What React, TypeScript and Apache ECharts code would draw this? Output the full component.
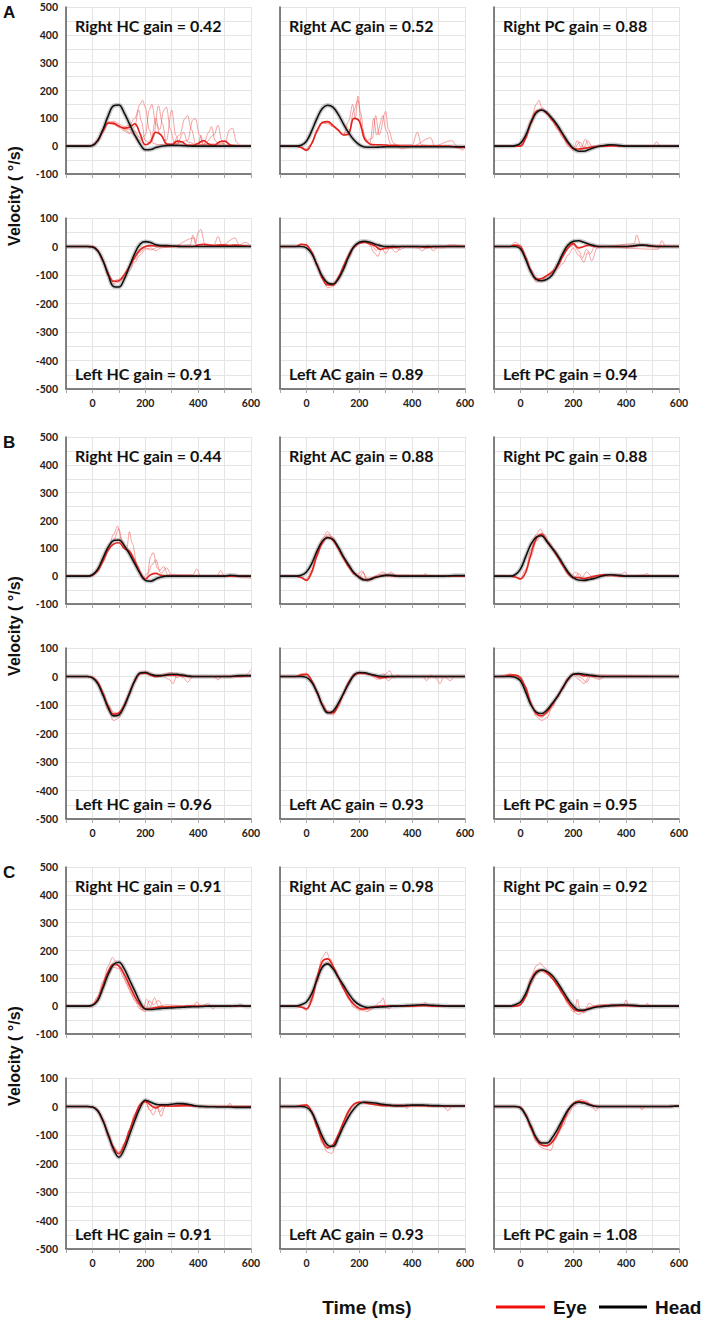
import React, { useEffect, useRef } from "react";
import * as echarts from "echarts";

// ---------- time base (ms) ----------
const T20 = [-100,-80,-60,-40,-20,0,20,40,60,80,100,120,140,160,180,200,220,240,260,280,300,320,340,360,380,400,420,440,460,480,500,520,540,560,580,600];

// ---------- group A ----------
const A_RHC_head = [0,0,0,0,0, 2,20,60,110,145,148,120,80,40,8,-13,-12,-5,0,2,3, 3,2,1,0,0,0,0,0,0,0,0,0,0,0,0];
const A_RHC_eye  = [0,0,0,0,0, 3,20,55,83,82,72,65,68,80,45,5,15,50,40,8,5, 18,15,3,3,10,20,8,3,15,18,5,2,0,0,0];
const A_RHC_trials = [
  [[-100,0],[-20,0],[0,2],[20,18],[40,55],[60,85],[80,90],[100,80],[120,70],[140,75],[160,100],[180,150],[190,165],[200,140],[215,60],[230,10],[250,5],[300,8],[330,40],[350,100],[360,110],[375,60],[390,10],[420,5],[440,50],[450,70],[465,20],[480,3],[600,0]],
  [[-100,0],[-20,0],[0,2],[20,15],[40,50],[60,80],[80,85],[100,75],[120,60],[140,50],[160,40],[180,20],[200,40],[215,130],[225,150],[240,80],[255,60],[270,130],[280,140],[295,60],[310,10],[360,20],[380,95],[390,100],[405,40],[420,5],[460,40],[475,75],[490,20],[500,2],[600,0]],
  [[-100,0],[-20,0],[0,3],[20,22],[40,60],[60,88],[80,80],[100,70],[120,62],[140,60],[160,55],[180,30],[200,5],[230,30],[250,145],[265,80],[280,10],[320,8],[345,50],[360,15],[400,5],[500,10],[520,60],[530,65],[545,15],[560,0],[600,0]],
  [[-100,0],[-20,0],[0,2],[20,20],[40,58],[60,82],[80,78],[100,68],[120,55],[140,45],[160,70],[175,130],[185,90],[200,20],[220,10],[240,100],[255,40],[280,20],[300,130],[315,40],[330,5],[400,0],[410,40],[420,5],[600,0]],
];
const A_LHC_head = [0,0,0,0,0, -2,-15,-50,-100,-140,-142,-115,-70,-25,8,17,14,6,3,3,2, 1,0,0,0,0,0,0,0,0,0,0,0,0,0,0];
const A_LHC_eye  = [0,0,0,0,0, 0,-15,-50,-95,-122,-120,-100,-70,-38,-12,0,3,2,2,0,0, 0,0,0,0,5,8,5,3,5,5,3,5,3,2,0];
const A_LHC_trials = [
  [[-100,0],[-20,0],[0,-2],[20,-18],[40,-55],[60,-105],[80,-130],[100,-125],[120,-110],[140,-85],[160,-55],[180,-30],[200,-10],[220,-5],[240,-15],[260,-5],[300,0],[370,5],[380,40],[390,10],[400,50],[410,60],[425,10],[460,5],[475,35],[490,5],[540,30],[555,5],[580,15],[600,0]],
  [[-100,0],[-20,0],[0,-2],[20,-16],[40,-50],[60,-100],[80,-120],[100,-115],[120,-100],[140,-75],[160,-45],[180,-20],[200,-5],[220,-12],[250,-2],[300,0],[385,30],[395,5],[600,0]],
];
const A_RAC_head = [0,0,0,0,3, 18,55,100,135,147,140,115,80,48,22,5,-3,-4,-4,-3,-2, -2,-2,-2,-2,-2,-2,-2,-2,-2,-2,-2,-2,-2,-2,-2];
const A_RAC_eye  = [0,0,0,0,-5, -15,10,55,85,88,75,58,40,45,100,90,25,8,5,5,4, 2,2,0,0,0,0,0,0,0,0,0,0,-3,-5,-3];
const A_RAC_trials = [
  [[-100,0],[-40,0],[-20,-5],[0,-10],[20,10],[40,60],[60,85],[80,80],[100,70],[120,55],[140,40],[160,90],[175,150],[185,100],[195,180],[205,120],[220,30],[240,10],[255,100],[265,40],[290,110],[300,60],[320,5],[400,5],[420,50],[435,5],[480,0],[550,20],[570,0],[590,-15],[600,-5]],
  [[-100,0],[-40,0],[-20,-5],[0,-12],[20,8],[40,50],[60,82],[80,85],[100,72],[120,60],[140,45],[160,50],[180,130],[195,165],[210,60],[230,20],[250,30],[262,110],[275,40],[300,125],[310,60],[330,10],[360,-10],[400,0],[470,30],[485,0],[600,0]],
];
const A_LAC_head = [0,0,0,0,0, -5,-25,-65,-105,-128,-132,-115,-80,-35,0,15,18,15,8,3,0, 0,0,0,0,0,0,0,0,0,0,0,0,0,0,0];
const A_LAC_eye  = [0,0,0,0,8, 5,-20,-65,-110,-135,-135,-110,-70,-30,0,12,15,10,2,-10,-5, -3,-3,0,0,0,0,-2,-3,0,0,0,0,0,0,0];
const A_LAC_trials = [
  [[-100,0],[-40,0],[-20,8],[0,5],[20,-20],[40,-70],[60,-115],[80,-145],[100,-140],[120,-115],[140,-80],[160,-40],[180,-5],[200,10],[220,15],[240,5],[255,-20],[270,-35],[285,-5],[300,-25],[315,-5],[340,-20],[360,0],[420,-5],[440,-15],[460,5],[480,-15],[500,0],[560,5],[600,0]],
  [[-100,0],[-40,0],[-20,6],[0,5],[20,-18],[40,-60],[60,-100],[80,-125],[100,-130],[120,-110],[140,-75],[160,-35],[180,-5],[200,10],[230,15],[250,0],[265,-15],[280,5],[300,-10],[330,5],[350,-12],[380,0],[520,-5],[540,5],[600,0]],
];
const A_RPC_head = [0,0,0,0,2, 10,40,85,120,130,120,100,75,45,15,-8,-18,-18,-12,-5,0, 3,5,4,2,0,0,0,0,0,0,0,0,0,0,0];
const A_RPC_eye  = [0,0,0,0,0, 0,30,85,125,130,118,95,70,40,10,-8,-10,-8,-5,-2,0, 0,2,2,0,0,0,0,0,0,0,0,0,0,0,0];
const A_RPC_trials = [
  [[-100,0],[0,0],[20,35],[40,95],[60,150],[70,165],[80,140],[100,125],[120,100],[140,70],[160,40],[180,10],[200,-10],[215,20],[230,-5],[245,25],[260,0],[300,0],[600,0]],
  [[-100,0],[0,0],[20,25],[40,80],[60,120],[80,135],[100,115],[120,90],[140,60],[160,30],[180,0],[200,-15],[225,15],[240,-5],[255,20],[270,0],[500,0],[515,15],[530,0],[600,0]],
];
const A_LPC_head = [0,0,0,0,0, -8,-45,-90,-115,-120,-115,-100,-65,-25,5,18,20,15,8,3,0, 0,0,0,0,0,2,4,5,4,2,0,0,0,0,0];
const A_LPC_eye  = [0,0,0,0,5, 0,-40,-85,-115,-112,-102,-90,-70,-35,-5,10,-5,0,5,0,0, 0,0,0,0,0,0,3,5,3,0,0,0,0,0,0];
const A_LPC_trials = [
  [[-100,0],[-40,0],[-20,15],[0,5],[20,-40],[40,-90],[60,-125],[80,-120],[100,-105],[120,-95],[140,-80],[160,-60],[180,-30],[200,-5],[220,-30],[240,-55],[255,-20],[270,-50],[290,-5],[320,0],[430,10],[440,40],[455,5],[600,0]],
  [[-100,0],[-20,0],[0,0],[20,-35],[40,-80],[60,-110],[80,-115],[100,-100],[120,-85],[140,-60],[160,-30],[180,-5],[200,5],[220,-15],[235,-40],[250,-10],[265,-25],[280,0],[520,-10],[535,20],[550,0],[600,0]],
];

// ---------- group B ----------
const B_RHC_head = [0,0,0,0,0, 5,25,65,105,128,130,110,80,45,10,-15,-18,-10,-3,0,0, 0,0,0,0,0,0,0,0,0,0,3,2,0,0,0];
const B_RHC_eye  = [0,0,0,0,0, 3,20,55,95,115,120,100,90,55,15,-10,5,10,3,0,0, 0,0,0,0,0,0,0,0,0,0,0,0,0,0,0];
const B_RHC_trials = [
  [[-100,0],[-20,0],[0,3],[20,20],[40,60],[60,100],[80,150],[95,180],[110,130],[130,100],[140,160],[150,120],[170,40],[190,-10],[205,-15],[220,70],[230,85],[245,30],[260,10],[280,30],[300,5],[400,0],[600,0]],
  [[-100,0],[-20,0],[0,2],[20,15],[40,50],[60,90],[80,130],[100,170],[115,120],[130,90],[150,70],[170,30],[190,-5],[210,10],[225,40],[240,60],[255,20],[270,35],[285,5],[380,5],[395,25],[410,0],[470,0],[485,20],[500,0],[590,-5],[600,-10]],
];
const B_LHC_head = [0,0,0,0,0, -5,-25,-65,-110,-138,-135,-105,-60,-15,12,14,8,3,3,6,8, 8,5,2,0,0,0,0,0,0,0,0,2,3,3,3];
const B_LHC_eye  = [0,0,0,0,0, -3,-20,-60,-105,-132,-128,-100,-58,-15,10,12,5,0,2,5,5, 5,3,0,0,0,0,0,0,0,0,0,0,0,2,3];
const B_LHC_trials = [
  [[-100,0],[-20,0],[0,-5],[20,-25],[40,-70],[60,-120],[80,-155],[100,-145],[120,-110],[140,-65],[160,-20],[180,10],[200,15],[220,5],[260,5],[290,-10],[305,-25],[320,5],[345,-5],[360,-20],[380,0],[460,0],[475,-12],[490,0],[580,5],[600,25]],
  [[-100,0],[-20,0],[0,-2],[20,-20],[40,-55],[60,-100],[80,-125],[100,-130],[120,-105],[140,-60],[160,-15],[180,15],[200,18],[240,0],[280,10],[300,15],[320,-5],[340,10],[360,0],[600,0]],
];
const B_RAC_head = [0,0,0,0,3, 15,45,90,125,138,132,105,70,40,12,-5,-14,-12,-5,0,3, 3,1,0,0,0,0,0,0,0,0,0,1,2,2,2];
const B_RAC_eye  = [0,0,0,0,-5, -15,15,75,120,140,130,100,65,35,10,-2,-12,-10,-3,0,3, 2,0,0,0,0,0,0,0,0,0,0,0,0,0,0];
const B_RAC_trials = [
  [[-100,0],[-40,0],[-20,-5],[0,-12],[20,20],[40,85],[60,135],[80,160],[100,135],[120,100],[140,65],[160,30],[180,5],[200,10],[210,20],[225,-5],[240,-15],[260,0],[290,15],[305,5],[320,15],[340,0],[440,0],[450,10],[460,0],[600,0]],
  [[-100,0],[-40,0],[-20,-4],[0,-10],[20,10],[40,70],[60,115],[80,150],[100,140],[120,105],[140,70],[160,40],[180,15],[200,-5],[215,15],[230,-20],[250,-10],[280,5],[600,0]],
];
const B_LAC_head = [0,0,0,0,0, -3,-20,-55,-100,-127,-122,-95,-60,-25,5,14,13,8,4,1,0, 0,0,0,0,0,0,0,0,0,0,0,0,0,0,0];
const B_LAC_eye  = [0,0,0,0,5, 8,-15,-55,-100,-125,-128,-100,-60,-20,5,12,12,8,2,-5,-3, 0,0,0,0,0,0,0,0,0,0,0,0,0,0,0];
const B_LAC_trials = [
  [[-100,0],[-40,0],[-20,10],[0,12],[20,-15],[40,-60],[60,-105],[80,-130],[100,-135],[120,-110],[140,-65],[160,-20],[180,10],[200,15],[230,10],[260,0],[280,-10],[300,10],[315,20],[330,-5],[345,5],[360,0],[440,0],[455,-15],[470,5],[490,-5],[505,-25],[520,0],[545,-15],[560,0],[600,0]],
  [[-100,0],[-40,0],[-20,4],[0,5],[20,-20],[40,-50],[60,-95],[80,-120],[100,-125],[120,-100],[140,-60],[160,-25],[180,0],[200,10],[240,5],[270,-10],[290,10],[310,-15],[330,0],[600,0]],
];
const B_RPC_head = [0,0,0,0,5, 25,70,115,140,145,125,100,75,45,15,-5,-14,-15,-12,-8,-2, 3,5,4,2,0,0,0,0,0,0,0,0,0,0,0];
const B_RPC_eye  = [0,0,0,0,-3, -10,15,80,135,150,125,100,70,40,10,-5,-5,-8,-5,0,3, 5,5,2,0,0,0,0,0,0,0,0,0,0,0,0];
const B_RPC_trials = [
  [[-100,0],[-40,0],[-20,-3],[0,-8],[20,25],[40,95],[60,150],[75,170],[90,150],[110,120],[130,95],[150,65],[170,30],[190,0],[210,15],[230,-10],[250,15],[270,0],[300,5],[380,5],[395,15],[410,0],[470,5],[480,10],[490,0],[600,0]],
  [[-100,0],[-40,0],[-20,-4],[0,-12],[20,10],[40,70],[60,125],[80,155],[100,130],[120,105],[140,70],[160,35],[180,5],[200,-10],[220,10],[240,-15],[260,-5],[300,0],[600,0]],
];
const B_LPC_head = [0,0,0,0,-3, -15,-55,-100,-125,-130,-118,-95,-70,-40,-10,8,10,8,5,3,0, 0,0,0,0,0,0,0,0,0,0,0,0,0,0,0];
const B_LPC_eye  = [0,0,0,5,5, -5,-40,-95,-130,-138,-125,-100,-70,-40,-10,8,8,2,3,0,0, 0,0,0,0,0,0,0,0,0,0,0,0,0,0,0];
const B_LPC_trials = [
  [[-100,0],[-80,0],[-60,5],[-40,10],[-20,5],[0,0],[20,-35],[40,-95],[60,-140],[80,-155],[100,-145],[120,-110],[140,-75],[160,-45],[180,-15],[200,5],[220,-10],[240,-25],[260,0],[300,-10],[320,0],[600,0]],
  [[-100,0],[-80,0],[-40,3],[-20,2],[0,-5],[20,-45],[40,-100],[60,-135],[80,-145],[100,-130],[120,-100],[140,-70],[160,-35],[180,-5],[200,10],[230,-5],[250,-20],[270,5],[600,0]],
];

// ---------- group C ----------
const C_RHC_head = [0,0,0,0,0, 3,20,65,115,150,158,135,95,55,15,-10,-12,-10,-8,-7,-6, -5,-4,-3,-2,-2,-1,0,0,0,0,0,1,2,0,0];
const C_RHC_eye  = [0,0,0,0,0, 3,25,75,125,150,145,115,75,35,5,-10,-8,-5,-3,-3,-2, -2,-2,0,0,0,0,0,0,0,0,0,0,0,0,0];
const C_RHC_trials = [
  [[-100,0],[-20,0],[0,5],[20,35],[40,90],[60,145],[75,175],[90,160],[110,125],[130,80],[150,40],[170,10],[190,-15],[205,25],[220,0],[235,30],[250,0],[280,5],[380,0],[395,15],[410,0],[440,10],[455,-10],[470,0],[600,0]],
  [[-100,0],[-20,0],[0,2],[20,20],[40,65],[60,115],[80,140],[100,135],[120,100],[140,60],[160,20],[180,-10],[200,-20],[215,20],[230,5],[250,20],[270,-5],[300,0],[600,0]],
];
const C_LHC_head = [0,0,0,0,0, -2,-15,-50,-100,-150,-178,-150,-100,-50,-5,22,15,8,6,6,8, 10,10,8,4,1,0,-1,-1,-2,-2,-2,-3,-3,-3,-3];
const C_LHC_eye  = [0,0,0,0,0, -2,-15,-50,-100,-145,-165,-135,-85,-35,5,18,5,-5,3,2,2, 3,5,5,3,0,0,0,0,0,0,0,0,0,0,0];
const C_LHC_trials = [
  [[-100,0],[-20,0],[0,-2],[20,-18],[40,-55],[60,-110],[80,-160],[100,-175],[120,-140],[140,-80],[160,-25],[180,10],[200,20],[215,-10],[230,-30],[245,0],[260,-35],[275,0],[300,0],[510,0],[520,12],[530,0],[600,0]],
  [[-100,0],[-20,0],[0,0],[20,-12],[40,-45],[60,-95],[80,-140],[100,-160],[120,-130],[140,-85],[160,-35],[180,0],[200,15],[220,-15],[240,5],[255,-20],[270,0],[600,0]],
];
const C_RAC_head = [0,0,0,0,5, 15,45,95,140,152,135,105,75,45,20,5,-3,-5,-4,-3,-2, 0,0,1,2,3,4,5,4,3,2,1,0,0,0,0];
const C_RAC_eye  = [0,0,0,0,-3, -10,25,100,160,170,145,105,65,30,5,-8,-10,-5,-2,0,0, 0,0,0,0,0,2,3,2,0,0,0,0,0,0,0];
const C_RAC_trials = [
  [[-100,0],[-40,0],[-20,-5],[0,-15],[20,30],[40,110],[60,175],[75,195],[90,170],[110,130],[130,90],[150,50],[170,20],[190,0],[210,-15],[230,-20],[250,-5],[280,15],[290,30],[300,0],[310,-10],[330,0],[440,0],[450,15],[460,0],[600,0]],
  [[-100,0],[-40,0],[-20,-3],[0,-8],[20,15],[40,85],[60,145],[80,160],[100,140],[120,100],[140,60],[160,25],[180,-5],[200,-15],[220,-10],[240,-15],[260,0],[600,0]],
];
const C_LAC_head = [0,0,0,0,0, -3,-20,-60,-105,-135,-140,-110,-70,-35,-8,10,15,14,12,9,6, 4,3,3,4,5,5,5,4,3,3,2,2,2,2,2];
const C_LAC_eye  = [0,0,0,0,3, 5,-20,-70,-120,-145,-135,-100,-55,-15,8,15,13,10,6,4,3, 3,2,2,2,3,3,3,2,2,2,2,2,2,2,2];
const C_LAC_trials = [
  [[-100,0],[-40,0],[-20,5],[0,8],[20,-20],[40,-75],[60,-130],[80,-160],[95,-165],[110,-140],[130,-90],[150,-40],[170,0],[190,15],[220,18],[260,8],[300,3],[370,0],[380,-8],[390,3],[520,0],[535,-15],[550,0],[600,0]],
  [[-100,0],[-40,0],[-20,2],[0,3],[20,-15],[40,-60],[60,-110],[80,-140],[100,-140],[120,-110],[140,-65],[160,-20],[180,10],[200,15],[240,8],[600,0]],
];
const C_RPC_head = [0,0,0,0,5, 15,45,90,120,130,125,110,85,55,25,0,-14,-15,-10,-5,-2, 0,2,3,4,4,3,2,0,0,0,0,0,0,0,0];
const C_RPC_eye  = [0,0,0,0,0, 5,35,90,125,130,120,100,75,45,15,-10,-18,-15,-8,-3,0, 2,2,2,2,2,2,0,0,0,0,0,0,0,0,0];
const C_RPC_trials = [
  [[-100,0],[-20,0],[0,8],[20,45],[40,105],[60,145],[75,155],[90,140],[110,115],[130,90],[150,60],[170,30],[190,5],[205,-20],[215,25],[225,-10],[240,-25],[260,10],[280,0],[390,5],[400,22],[410,0],[470,0],[480,10],[490,0],[600,0]],
  [[-100,0],[-20,0],[0,3],[20,30],[40,80],[60,115],[80,125],[100,115],[120,100],[140,70],[160,40],[180,5],[200,-20],[220,-30],[240,-20],[260,-5],[300,5],[600,0]],
];
const C_LPC_head = [0,0,0,0,0, -5,-30,-70,-110,-128,-128,-110,-80,-45,-12,8,15,12,6,1,0, 0,0,0,0,0,0,0,0,0,0,0,0,0,1,2];
const C_LPC_eye  = [0,0,0,0,0, -3,-30,-75,-115,-135,-138,-125,-95,-55,-15,10,18,15,8,2,0, 0,0,0,0,0,0,0,0,0,0,0,0,0,1,2];
const C_LPC_trials = [
  [[-100,0],[-20,0],[0,-5],[20,-35],[40,-80],[60,-125],[80,-145],[100,-150],[115,-155],[130,-120],[150,-80],[170,-40],[190,-5],[210,15],[230,25],[250,15],[270,0],[285,-15],[300,0],[450,0],[460,-12],[470,0],[600,0]],
  [[-100,0],[-20,0],[0,0],[20,-25],[40,-65],[60,-105],[80,-125],[100,-130],[120,-120],[140,-100],[160,-70],[180,-30],[200,0],[220,15],[250,20],[270,5],[300,0],[600,0]],
];

// ---------- panel list ----------
const GROUP_LABELS = ["A", "B", "C"];
const PANELS = [
  { g: 0, row: 0, col: 0, title: "Right HC gain = 0.42", head: A_RHC_head, eye: A_RHC_eye, trials: A_RHC_trials },
  { g: 0, row: 0, col: 1, title: "Right AC gain = 0.52", head: A_RAC_head, eye: A_RAC_eye, trials: A_RAC_trials },
  { g: 0, row: 0, col: 2, title: "Right PC gain = 0.88", head: A_RPC_head, eye: A_RPC_eye, trials: A_RPC_trials },
  { g: 0, row: 1, col: 0, title: "Left HC gain = 0.91", head: A_LHC_head, eye: A_LHC_eye, trials: A_LHC_trials },
  { g: 0, row: 1, col: 1, title: "Left AC gain = 0.89", head: A_LAC_head, eye: A_LAC_eye, trials: A_LAC_trials },
  { g: 0, row: 1, col: 2, title: "Left PC gain = 0.94", head: A_LPC_head, eye: A_LPC_eye, trials: A_LPC_trials },
  { g: 1, row: 0, col: 0, title: "Right HC gain = 0.44", head: B_RHC_head, eye: B_RHC_eye, trials: B_RHC_trials },
  { g: 1, row: 0, col: 1, title: "Right AC gain = 0.88", head: B_RAC_head, eye: B_RAC_eye, trials: B_RAC_trials },
  { g: 1, row: 0, col: 2, title: "Right PC gain = 0.88", head: B_RPC_head, eye: B_RPC_eye, trials: B_RPC_trials },
  { g: 1, row: 1, col: 0, title: "Left HC gain = 0.96", head: B_LHC_head, eye: B_LHC_eye, trials: B_LHC_trials },
  { g: 1, row: 1, col: 1, title: "Left AC gain = 0.93", head: B_LAC_head, eye: B_LAC_eye, trials: B_LAC_trials },
  { g: 1, row: 1, col: 2, title: "Left PC gain = 0.95", head: B_LPC_head, eye: B_LPC_eye, trials: B_LPC_trials },
  { g: 2, row: 0, col: 0, title: "Right HC gain = 0.91", head: C_RHC_head, eye: C_RHC_eye, trials: C_RHC_trials },
  { g: 2, row: 0, col: 1, title: "Right AC gain = 0.98", head: C_RAC_head, eye: C_RAC_eye, trials: C_RAC_trials },
  { g: 2, row: 0, col: 2, title: "Right PC gain = 0.92", head: C_RPC_head, eye: C_RPC_eye, trials: C_RPC_trials },
  { g: 2, row: 1, col: 0, title: "Left HC gain = 0.91", head: C_LHC_head, eye: C_LHC_eye, trials: C_LHC_trials },
  { g: 2, row: 1, col: 1, title: "Left AC gain = 0.93", head: C_LAC_head, eye: C_LAC_eye, trials: C_LAC_trials },
  { g: 2, row: 1, col: 2, title: "Left PC gain = 1.08", head: C_LPC_head, eye: C_LPC_eye, trials: C_LPC_trials },
];

// ---------- layout ----------
const COL_X = [66, 280, 494];
const COL_W = 185;
const GROUP_DY = 430;
const TOP_Y = 7;
const TOP_H = 167;
const BOT_Y = 218;
const BOT_H = 171;

const GRID_COLOR = "#e4e4e4";
const AXIS_COLOR = "#5a5a5a";
const EYE_COLOR = "#e3221c";
const TRIAL_COLOR = "rgba(238,72,72,0.5)";
const BAND_COLOR = "rgba(110,110,110,0.35)";
const TITLE_FONT = "Lato";
const ARIAL = "'Liberation Sans', Arial, sans-serif";

function buildOption() {
  const grid: any[] = [];
  const xAxis: any[] = [];
  const yAxis: any[] = [];
  const series: any[] = [];
  const graphic: any[] = [];
  const zip = (arr: number[]) => T20.map((t, k) => [t, arr[k]]);

  PANELS.forEach((p, i) => {
    const top = (p.row === 0 ? TOP_Y : BOT_Y) + p.g * GROUP_DY;
    const h = p.row === 0 ? TOP_H : BOT_H;
    const left = COL_X[p.col];
    grid.push({ left, top, width: COL_W, height: h });
    xAxis.push({
      gridIndex: i, type: "value", min: -100, max: 600, interval: 100,
      axisLine: { onZero: false, lineStyle: { color: AXIS_COLOR, width: 1.5 } },
      axisTick: { show: true, length: 4, lineStyle: { color: "#a8a8a8" } },
      axisLabel: {
        show: p.row === 1, margin: 8, fontSize: 10.5, fontWeight: "bold",
        fontFamily: TITLE_FONT, color: "#222",
        formatter: (v: number) => (v % 200 === 0 ? String(v) : ""),
      },
      splitLine: { show: true, lineStyle: { color: GRID_COLOR, width: 1 } },
    });
    yAxis.push({
      gridIndex: i, type: "value",
      min: p.row === 0 ? -100 : -500, max: p.row === 0 ? 500 : 100, interval: 100,
      axisLine: { show: true, onZero: false, lineStyle: { color: AXIS_COLOR, width: 1.5 } },
      axisTick: { show: false },
      axisLabel: {
        show: p.col === 0, margin: 8, fontSize: 10.5, fontWeight: "bold",
        fontFamily: TITLE_FONT, color: "#222",
      },
      splitLine: { show: true, lineStyle: { color: GRID_COLOR, width: 1 } },
      minorTick: { show: false, splitNumber: 2 },
      minorSplitLine: { show: true, lineStyle: { color: GRID_COLOR, width: 1 } },
    });
    const base = { type: "line", xAxisIndex: i, yAxisIndex: i, symbol: "none", silent: true, animation: false };
    series.push({ ...base, data: zip(p.head), smooth: 0.4, lineStyle: { color: BAND_COLOR, width: 4.5 }, z: 2 });
    p.trials.forEach((tr) => {
      series.push({ ...base, data: tr, smooth: 0.35, smoothMonotone: "x", lineStyle: { color: TRIAL_COLOR, width: 1 }, z: 3 });
    });
    series.push({ ...base, data: zip(p.eye), smooth: 0.4, lineStyle: { color: EYE_COLOR, width: 1.6 }, z: 4 });
    series.push({ ...base, data: zip(p.head), smooth: 0.4, lineStyle: { color: "#111", width: 1.6 }, z: 5 });

    graphic.push({
      type: "text",
      x: left + 9,
      y: p.row === 0 ? top + 18 : top + h - 16,
      style: {
        text: p.title, fontSize: 16, fontWeight: "bold", fontFamily: TITLE_FONT,
        fill: "#111", align: "left", verticalAlign: "middle",
      },
      z: 10,
    });
  });

  GROUP_LABELS.forEach((lab, g) => {
    graphic.push({
      type: "text", x: 3, y: 12 + g * GROUP_DY,
      style: { text: lab, fontSize: 17, fontWeight: "bold", fontFamily: ARIAL, fill: "#111", align: "left", verticalAlign: "middle" },
    });
    graphic.push({
      type: "text", x: 14, y: 196 + g * GROUP_DY, rotation: Math.PI / 2,
      style: { text: "Velocity ( °/s)", fontSize: 16, fontWeight: "bold", fontFamily: ARIAL, fill: "#111", align: "center", verticalAlign: "middle" },
    });
  });

  graphic.push({
    type: "text", x: 367, y: 1307,
    style: { text: "Time (ms)", fontSize: 19, fontWeight: "bold", fontFamily: ARIAL, fill: "#111", align: "center", verticalAlign: "middle" },
  });
  graphic.push({ type: "line", shape: { x1: 496, y1: 1307, x2: 545, y2: 1307 }, style: { stroke: "#f01010", lineWidth: 3 } });
  graphic.push({
    type: "text", x: 553, y: 1307,
    style: { text: "Eye", fontSize: 19, fontWeight: "bold", fontFamily: ARIAL, fill: "#111", align: "left", verticalAlign: "middle" },
  });
  graphic.push({ type: "line", shape: { x1: 599, y1: 1307, x2: 647, y2: 1307 }, style: { stroke: "#000", lineWidth: 3 } });
  graphic.push({
    type: "text", x: 655, y: 1307,
    style: { text: "Head", fontSize: 19, fontWeight: "bold", fontFamily: ARIAL, fill: "#111", align: "left", verticalAlign: "middle" },
  });

  return { animation: false, backgroundColor: "#ffffff", grid, xAxis, yAxis, series, graphic };
}

export default function App() {
  const ref = useRef<HTMLDivElement>(null);
  useEffect(() => {
    if (!ref.current) return;
    const chart = echarts.init(ref.current, undefined, { renderer: "svg" });
    chart.setOption(buildOption() as any);
    return () => chart.dispose();
  }, []);
  return (
    <div
      ref={ref}
      style={{ position: "absolute", left: 0, top: 0, width: 704, height: 1321, background: "#fff" }}
    />
  );
}
